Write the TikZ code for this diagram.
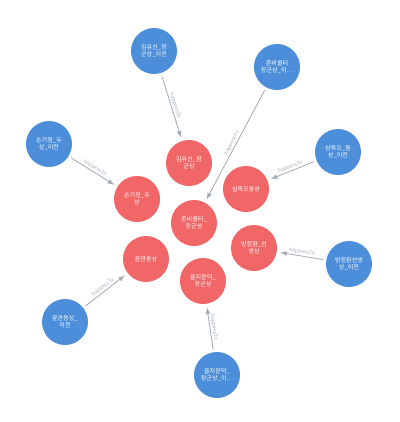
\documentclass[tikz,border=0pt]{standalone}
\usepackage{xcolor}
\usepackage{fontspec}
\newfontfamily\kr{Noto Sans CJK KR}
\usepackage{tikz}
\usetikzlibrary{shapes.geometric, arrows}

\definecolor{statueRed}{HTML}{F16667}
\definecolor{prevBlue}{HTML}{4C8EDA}
\definecolor{linkGray}{HTML}{A5ABB6}

\begin{document}
\begin{tikzpicture}[x=0.025cm, y=-0.025cm,
        statue/.style={circle, fill=statueRed, minimum size=1.15cm, inner sep=0pt,
            align=center, text=white, font=\kr\fontsize{4.3}{4.8}\selectfont},
        prev/.style={statue, fill=prevBlue},
        link/.style={->, >=latex, draw=linkGray, line width=0.6pt,
            shorten >=2.5pt, shorten <=2pt},
        rel/.style={midway, sloped, above, inner sep=0.8pt, text=linkGray,
            font=\kr\fontsize{3.6}{4}\selectfont}]
        \fill[white] (0,0) rectangle (400,422);
        \useasboundingbox (0,0) rectangle (400,422);

        % statues
        \node[statue] (kim) at (189,163) {김유신\_장\\군상};
        \node[statue] (son) at (137,199) {손기정\_두\\상};
        \node[statue] (coulter) at (194,223) {존비콜터\_\\장군상};
        \node[statue] (crow) at (246,189) {삼족오동상};
        \node[statue] (bang) at (254,248) {방정환\_선\\생상};
        \node[statue] (yun) at (146,259) {윤관동상};
        \node[statue] (eulji) at (203,281) {을지문덕\_\\장군상};

        % before the move
        \node[prev] (kimPrev) at (154,51) {김유신\_장\\군상\_이전};
        \node[prev] (coulterPrev) at (277,67) {존비콜터\\장군상\_이…};
        \node[prev] (sonPrev) at (49,144) {손기정\_두\\상\_이전};
        \node[prev] (crowPrev) at (338,152) {삼족오\_동\\상\_이전};
        \node[prev] (bangPrev) at (349,264) {방정환선생\\상\_이전};
        \node[prev] (yunPrev) at (65,322) {윤관동상\_\\이전};
        \node[prev] (euljiPrev) at (217,375) {을지문덕\_\\장군상\_이…};

        % prev -> statue
        \draw[link] (kimPrev) -- (kim) node[rel] {happensTo};
        \draw[link] (coulterPrev) -- (coulter) node[rel] {happensTo};
        \draw[link] (sonPrev) -- (son) node[rel] {happensTo};
        \draw[link] (crowPrev) -- (crow) node[rel] {happensTo};
        \draw[link] (bangPrev) -- (bang) node[rel] {happensTo};
        \draw[link] (yunPrev) -- (yun) node[rel] {happensTo};
        \draw[link] (euljiPrev) -- (eulji) node[rel] {happensTo};
    \end{tikzpicture}
\end{document}
